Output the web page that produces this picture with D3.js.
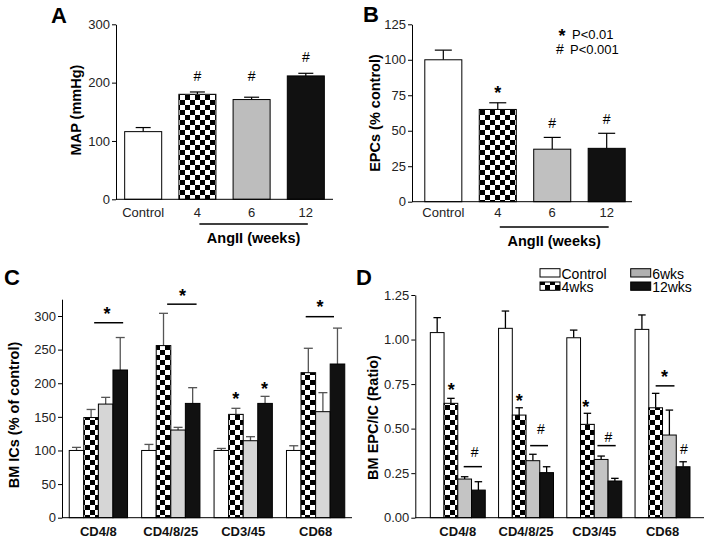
<!DOCTYPE html>
<html><head><meta charset="utf-8">
<script src="https://cdn.jsdelivr.net/npm/d3@7"></script>
<style>
body{margin:0;background:#fff;}
svg{display:block;font-family:"Liberation Sans",Arial,sans-serif;}
</style></head>
<body><svg id="c" width="704" height="542"></svg>
<script>
// ---------- data ----------
const catsAB = ["Control","4","6","12"];
const mapVals = [116,180,171,211.5];
const mapSem  = [7,4,4,4.5];
const epcVals = [100,65,37,37.6];
const epcSem  = [6.8,4.7,8.3,10.6];
const marksA = [{c:"4",v:212,s:"#"},{c:"6",v:212,s:"#"},{c:"12",v:243.4,s:"#"}];
const marksB = [{c:"4",v:79.4,s:"*"},{c:"6",v:55.4,s:"#"},{c:"12",v:58.2,s:"#"}];

const groups = ["CD4/8","CD4/8/25","CD3/45","CD68"];
const series = ["Control","4wks","6wks","12wks"];
// Panel C: BM ICs (% of control)
const icControl = [100,100,100,100];
const icControlSem = [4.6,9,3,7];
const ic4 = [149,256,153.7,215.7];
const ic4Sem = [12,48,9,36.3];
const ic6 = [169,130.4,114.5,157.7];
const ic6Sem = [10,4,6,28.3];
const ic12 = [219.7,170,170,228.6];
const ic12Sem = [48.3,23.4,10.5,53.4];
// Panel D: BM EPC/IC ratio
const rControl = [1.039,1.063,1.01,1.057];
const rControlSem = [0.084,0.097,0.043,0.081];
const r4 = [0.642,0.576,0.524,0.617];
const r4Sem = [0.028,0.041,0.062,0.081];
const r6 = [0.217,0.32,0.327,0.464];
const r6Sem = [0.013,0.036,0.019,0.14];
const r12 = [0.155,0.253,0.206,0.286];
const r12Sem = [0.047,0.033,0.015,0.028];

const linesC = [{g:"CD4/8",a:1.71,b:3.7,v:290},{g:"CD4/8/25",a:1.75,b:3.77,v:317.6},{g:"CD68",a:1.32,b:3.26,v:299}];
const marksC = [{g:"CD4/8",p:2.6,v:309,s:"*"},{g:"CD4/8/25",p:2.8,v:336,s:"*"},{g:"CD3/45",p:1.49,v:182.6,s:"*"},{g:"CD3/45",p:3.47,v:198.5,s:"*"},{g:"CD68",p:2.3,v:319,s:"*"}];
const linesD = [{g:"CD4/8",a:2.43,b:3.76,v:0.2865},{g:"CD4/8/25",a:2.3,b:3.6,v:0.4045},{g:"CD3/45",a:2.23,b:3.56,v:0.4045},{g:"CD68",a:1.5,b:2.87,v:0.74}];
const marksD = [{g:"CD4/8",p:1.53,v:0.74,s:"*"},{g:"CD4/8",p:3.23,v:0.371,s:"#"},{g:"CD4/8/25",p:1.5,v:0.68,s:"*"},{g:"CD4/8/25",p:3.08,v:0.4966,s:"#"},{g:"CD3/45",p:1.38,v:0.646,s:"*"},{g:"CD3/45",p:3.03,v:0.455,s:"#"},{g:"CD68",p:2.14,v:0.815,s:"*"},{g:"CD68",p:3.56,v:0.384,s:"#"}];

// ---------- drawing ----------
const svg = d3.select("#c");
svg.append("rect").attr("width",704).attr("height",542).attr("fill","#fff");
const defs = svg.append("defs");
const pat = defs.append("pattern").attr("id","chk").attr("patternUnits","userSpaceOnUse").attr("width",10).attr("height",10);
pat.append("rect").attr("width",10).attr("height",10).attr("fill","#fff");
pat.append("rect").attr("width",5).attr("height",5).attr("fill","#000");
pat.append("rect").attr("x",5).attr("y",5).attr("width",5).attr("height",5).attr("fill","#000");

function fills(gray){ return ["#fff","url(#chk)",gray,"#111"]; }

function glyph(g, x, yc, s){
  const fs = s==="*" ? 18 : 14;
  g.append("text").attr("x",x).attr("y",yc + (s==="*"?0.57:0.35)*fs)
   .attr("text-anchor","middle").attr("font-size",fs)
   .attr("font-weight",s==="*"?"bold":"normal").text(s);
}

function yAxis(y, x0, ticks, fmt){
  const ax = svg.append("g").attr("transform",`translate(${x0},0)`)
    .call(d3.axisLeft(y).tickValues(ticks).tickSize(4).tickPadding(2).tickSizeOuter(0).tickFormat(fmt));
  ax.selectAll("text").attr("font-size",13).attr("fill","#222").style("font-family","Liberation Sans, Arial, sans-serif");
  ax.selectAll("path,line").attr("stroke","#000").attr("stroke-width",1);
  return ax;
}
function yTitle(x,y,t){
  svg.append("text").attr("transform",`translate(${x},${y}) rotate(-90)`)
   .attr("text-anchor","middle").attr("dominant-baseline","central")
   .attr("font-size",14.5).attr("font-weight","bold").text(t);
}
function letter(x,y,t){
  svg.append("text").attr("x",x).attr("y",y).attr("font-size",22).attr("font-weight","bold").text(t);
}

// simple panels A & B
function simplePanel(o){
  const x = d3.scaleBand().domain(catsAB).range(o.xr).paddingInner(o.pi).paddingOuter(o.po);
  const y = d3.scaleLinear().domain(o.yd).range(o.yr);
  const f = fills(o.gray);
  const bw = x.bandwidth();
  const g = svg.append("g");
  // error bars
  catsAB.forEach((c,i)=>{
    const cx = x(c)+bw/2, yt = y(o.vals[i]), ye = y(o.vals[i]+o.sem[i]);
    g.append("line").attr("x1",cx).attr("x2",cx).attr("y1",yt).attr("y2",ye).attr("stroke","#000").attr("stroke-width",1.2);
    g.append("line").attr("x1",cx-o.cap/2).attr("x2",cx+o.cap/2).attr("y1",ye).attr("y2",ye).attr("stroke","#000").attr("stroke-width",1.2);
  });
  g.selectAll("rect.bar").data(catsAB).join("rect").attr("class","bar")
   .attr("x",d=>x(d)).attr("width",bw)
   .attr("y",(d,i)=>y(o.vals[i])).attr("height",(d,i)=>y(0)-y(o.vals[i]))
   .attr("fill",(d,i)=>f[i]).attr("stroke","#000").attr("stroke-width",1);
  yAxis(y, o.xr[0], o.ticks, d3.format("d"));
  svg.append("line").attr("x1",o.xr[0]).attr("x2",o.xEnd).attr("y1",y(0)).attr("y2",y(0)).attr("stroke","#000");
  const xa = svg.append("g").attr("transform",`translate(0,${y(0)})`)
    .call(d3.axisBottom(x).tickSize(0).tickPadding(o.tp));
  xa.select(".domain").remove();
  xa.selectAll("text").attr("font-size",13).attr("fill","#222").style("font-family","Liberation Sans, Arial, sans-serif");
  // AngII underline
  const ux1 = x("4")+bw/2+2, ux2 = x("12")+bw/2+2;
  svg.append("line").attr("x1",ux1).attr("x2",ux2).attr("y1",o.uy).attr("y2",o.uy).attr("stroke","#000").attr("stroke-width",1.5);
  svg.append("text").attr("x",(ux1+ux2)/2).attr("y",o.uy+19).attr("text-anchor","middle")
   .attr("font-size",14.5).attr("font-weight","bold").text("AngII (weeks)");
  o.marks.forEach(m=> glyph(svg, x(m.c)+bw/2, y(m.v), m.s));
  return {x,y};
}

simplePanel({xr:[116,333], xEnd:333, pi:0.317, po:0.16, yd:[0,300], yr:[199.3,24.3], ticks:[0,100,200,300],
  vals:mapVals, sem:mapSem, gray:"#bdbdbd", cap:15, tp:8.5, uy:224, marks:marksA});
yTitle(76,110,"MAP (mmHg)");
letter(51,23.3,"A");

simplePanel({xr:[412,638], xEnd:632, pi:0.32, po:0.235, yd:[0,125], yr:[201.7,24.3], ticks:[0,25,50,75,100,125],
  vals:epcVals, sem:epcSem, gray:"#c0c0c0", cap:17, tp:6.5, uy:227, marks:marksB});
yTitle(375,113,"EPCs (% control)");
letter(363,21.7,"B");
// P legend
glyph(svg, 562, 32, "*");
svg.append("text").attr("x",572).attr("y",38.5).attr("font-size",13).text("P<0.01");
glyph(svg, 560, 49, "#");
svg.append("text").attr("x",570).attr("y",54).attr("font-size",13).text("P<0.001");

// grouped panels C & D
function groupedPanel(o){
  const x0 = d3.scaleBand().domain(groups).range(o.xr).paddingInner(o.pi).paddingOuter(o.po);
  const x1 = d3.scaleBand().domain(series).range([0,x0.bandwidth()]);
  const y = d3.scaleLinear().domain(o.yd).range(o.yr);
  const bw = x1.bandwidth();
  const f = fills(o.gray);
  const g = svg.append("g");
  o.vals.forEach((arr,si)=>{
    groups.forEach((gr,gi)=>{
      const cx = x0(gr)+x1(series[si])+bw/2, yt=y(arr[gi]), ye=y(arr[gi]+o.sems[si][gi]);
      g.append("line").attr("x1",cx).attr("x2",cx).attr("y1",yt).attr("y2",ye).attr("stroke",o.ec).attr("stroke-width",1.3);
      g.append("line").attr("x1",cx-o.cap/2).attr("x2",cx+o.cap/2).attr("y1",ye).attr("y2",ye).attr("stroke",o.ec).attr("stroke-width",1.3);
    });
  });
  o.vals.forEach((arr,si)=>{
    g.selectAll(null).data(groups).join("rect")
     .attr("x",d=>x0(d)+x1(series[si])).attr("width",bw)
     .attr("y",(d,gi)=>y(arr[gi])).attr("height",(d,gi)=>y(0)-y(arr[gi]))
     .attr("fill",f[si]).attr("stroke","#000").attr("stroke-width",1);
  });
  yAxis(y, o.xr[0], o.ticks, o.fmt);
  svg.append("line").attr("x1",o.xr[0]).attr("x2",o.xEnd).attr("y1",y(0)).attr("y2",y(0)).attr("stroke","#000");
  const xa = svg.append("g").attr("transform",`translate(0,${y(0)})`)
    .call(d3.axisBottom(x0).tickSize(0).tickPadding(9));
  xa.select(".domain").remove();
  xa.selectAll("text").attr("font-size",13).attr("font-weight","bold").attr("fill","#111").style("font-family","Liberation Sans, Arial, sans-serif");
  o.lines.forEach(l=>{
    svg.append("line").attr("x1",x0(l.g)+l.a*bw).attr("x2",x0(l.g)+l.b*bw)
      .attr("y1",y(l.v)).attr("y2",y(l.v)).attr("stroke","#000").attr("stroke-width",1.5);
  });
  o.marks.forEach(m=> glyph(svg, x0(m.g)+m.p*bw, y(m.v), m.s));
}

groupedPanel({xr:[62,352], xEnd:352, pi:0.195, po:0.1, yd:[0,325], yr:[517.7,299.2], ticks:[0,50,100,150,200,250,300], fmt:d3.format("d"),
  vals:[icControl,ic4,ic6,ic12], sems:[icControlSem,ic4Sem,ic6Sem,ic12Sem], gray:"#d6d6d6", ec:"#555", cap:9,
  lines:linesC, marks:marksC});
yTitle(14,415,"BM ICs (% of control)");
letter(4,285,"C");

groupedPanel({xr:[415.3,705], xEnd:704, pi:0.195, po:0.22, yd:[0,1.25], yr:[517.7,295], ticks:[0,0.25,0.5,0.75,1,1.25], fmt:d3.format(".2f"),
  vals:[rControl,r4,r6,r12], sems:[rControlSem,r4Sem,r6Sem,r12Sem], gray:"#c4c4c4", ec:"#000", cap:7.5,
  lines:linesD, marks:marksD});
yTitle(373,417.5,"BM EPC/IC (Ratio)");
letter(356,285,"D");

// legend D
const legPos = [[540,268.7],[540,282],[630.7,268.7],[630.7,282]];
const fD = fills("#b0b0b0");
series.forEach((s,i)=>{
  const [lx,ly] = legPos[i];
  svg.append("rect").attr("x",lx).attr("y",ly).attr("width",20).attr("height",8.3)
    .attr("fill",fD[i]).attr("stroke","#000").attr("stroke-width",1);
  svg.append("text").attr("x",lx+21.5).attr("y",ly+9.8).attr("font-size",14).text(s);
});
</script></body></html>
